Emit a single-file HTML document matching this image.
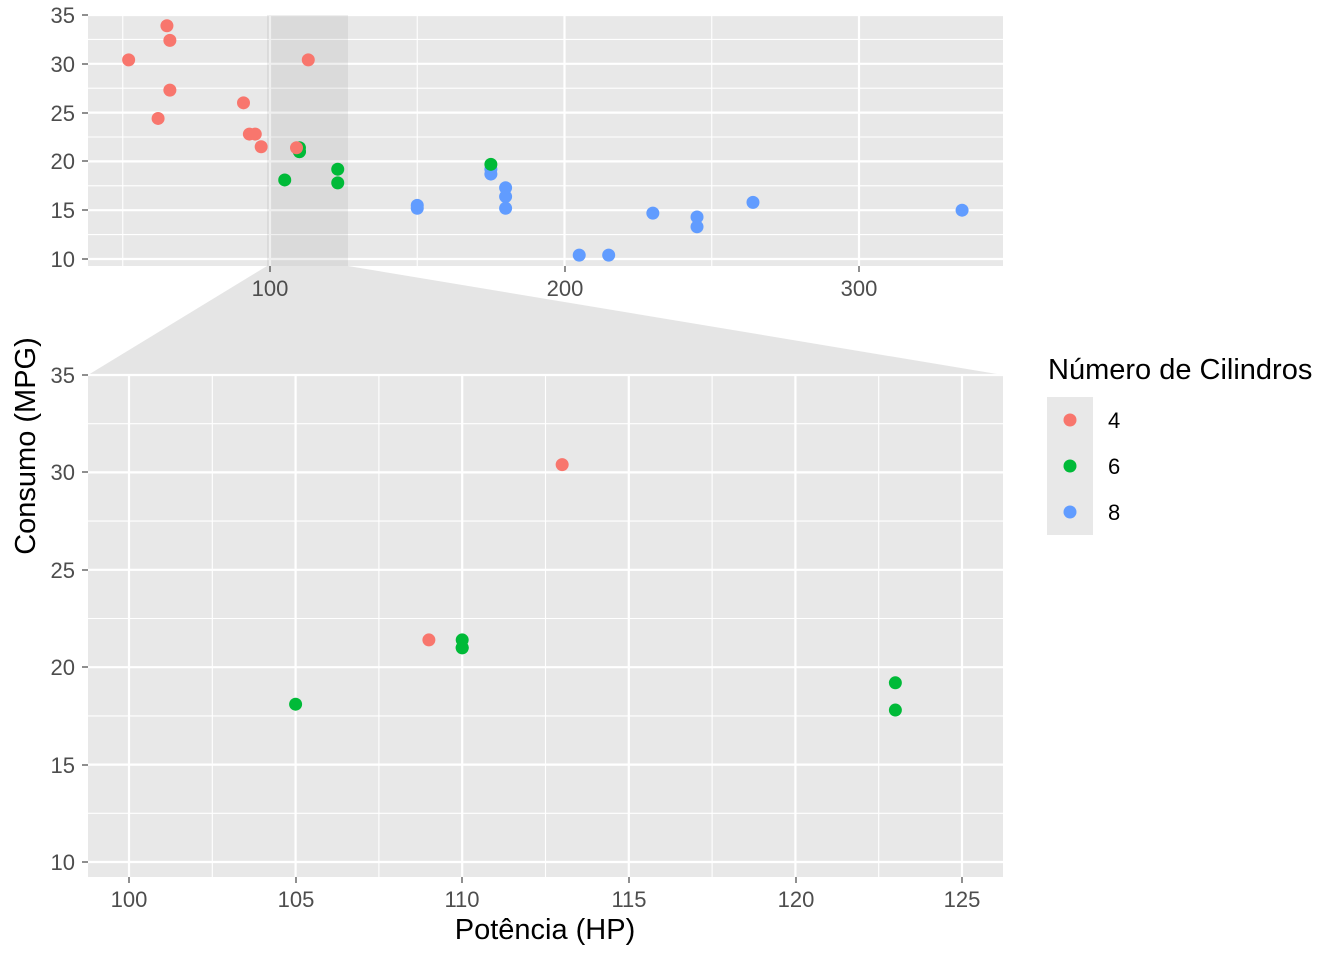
<!DOCTYPE html>
<html><head><meta charset="utf-8"><style>
body{margin:0;background:#fff}
svg text{font-family:"Liberation Sans",sans-serif}
</style></head><body>
<svg id="s" width="1344" height="960" xmlns="http://www.w3.org/2000/svg">
<rect x="0" y="0" width="1344" height="960" fill="#fff"/>
<polygon points="267,266 348,266 1003,375 88,375" fill="#e5e5e5"/>
<rect x="88" y="15" width="915" height="251" fill="#e8e8e8"/>
<rect x="88" y="375" width="915" height="502" fill="#e8e8e8"/>
<g id="grid"></g>
<rect x="267" y="15" width="81" height="251" fill="#7f7f7f" fill-opacity="0.12"/>
<g id="pts"></g>
<g font-size="22" fill="#4d4d4d" text-anchor="end">
<text x="75" y="23">35</text><text x="75" y="72">30</text><text x="75" y="121">25</text><text x="75" y="169">20</text><text x="75" y="218">15</text><text x="75" y="267">10</text>
<text x="75" y="383">35</text><text x="75" y="480">30</text><text x="75" y="578">25</text><text x="75" y="675">20</text><text x="75" y="773">15</text><text x="75" y="870">10</text>
</g>
<g font-size="22" fill="#4d4d4d" text-anchor="middle">
<text x="270" y="296">100</text><text x="565" y="296">200</text><text x="859" y="296">300</text>
<text x="129" y="907">100</text><text x="296" y="907">105</text><text x="462" y="907">110</text><text x="629" y="907">115</text><text x="796" y="907">120</text><text x="962" y="907">125</text>
</g>
<g stroke="#333" stroke-width="1.1">
<line x1="82" x2="88" y1="15" y2="15"/><line x1="82" x2="88" y1="64" y2="64"/><line x1="82" x2="88" y1="113" y2="113"/><line x1="82" x2="88" y1="161" y2="161"/><line x1="82" x2="88" y1="210" y2="210"/><line x1="82" x2="88" y1="259" y2="259"/>
<line x1="82" x2="88" y1="375" y2="375"/><line x1="82" x2="88" y1="472" y2="472"/><line x1="82" x2="88" y1="570" y2="570"/><line x1="82" x2="88" y1="667" y2="667"/><line x1="82" x2="88" y1="765" y2="765"/><line x1="82" x2="88" y1="862" y2="862"/>
<line y1="266" y2="272" x1="270" x2="270"/><line y1="266" y2="272" x1="565" x2="565"/><line y1="266" y2="272" x1="859" x2="859"/>
<line y1="877" y2="883" x1="129" x2="129"/><line y1="877" y2="883" x1="296" x2="296"/><line y1="877" y2="883" x1="462" x2="462"/><line y1="877" y2="883" x1="629" x2="629"/><line y1="877" y2="883" x1="796" x2="796"/><line y1="877" y2="883" x1="962" x2="962"/>
</g>
<text x="545" y="939" font-size="29" text-anchor="middle" fill="#000">Potência (HP)</text>
<text transform="translate(35,446) rotate(-90)" font-size="29" text-anchor="middle" fill="#000">Consumo (MPG)</text>
<text x="1048" y="379" font-size="29" fill="#000">Número de Cilindros</text>
<rect x="1047" y="397" width="46" height="138" fill="#e8e8e8"/>
<circle cx="1070" cy="420" r="6.5" fill="#F8766D"/>
<circle cx="1070" cy="466" r="6.5" fill="#00BA38"/>
<circle cx="1070" cy="512" r="6.5" fill="#619CFF"/>
<g font-size="22" fill="#000"><text x="1108" y="428">4</text><text x="1108" y="474">6</text><text x="1108" y="520">8</text></g>
</svg>
<script>
var d=[[110,21,6],[110,21,6],[93,22.8,4],[110,21.4,6],[175,18.7,8],[105,18.1,6],[245,14.3,8],[62,24.4,4],[95,22.8,4],[123,19.2,6],[123,17.8,6],[180,16.4,8],[180,17.3,8],[180,15.2,8],[205,10.4,8],[215,10.4,8],[230,14.7,8],[66,32.4,4],[52,30.4,4],[65,33.9,4],[97,21.5,4],[150,15.5,8],[150,15.2,8],[245,13.3,8],[175,19.2,8],[66,27.3,4],[91,26,4],[113,30.4,4],[264,15.8,8],[175,19.7,6],[335,15,8],[109,21.4,4]];
var col={4:"#F8766D",6:"#00BA38",8:"#619CFF"};
var ns="http://www.w3.org/2000/svg";
function el(p,t,a){var e=document.createElementNS(ns,t);for(var k in a)e.setAttribute(k,a[k]);p.appendChild(e);}
var g=document.getElementById("grid"),p=document.getElementById("pts");
function tx(h){return 270+(h-100)*2.945}function ty(m){return 259-(m-10)*9.76}
function bx(h){return 129+(h-100)*33.32}function by(m){return 862-(m-10)*19.48}
for(var v=12.5;v<=35;v+=5){el(g,"line",{x1:88,x2:1003,y1:ty(v),y2:ty(v),stroke:"#fff","stroke-width":1.1});el(g,"line",{x1:88,x2:1003,y1:by(v),y2:by(v),stroke:"#fff","stroke-width":1.1});}
for(var v=10;v<=35;v+=5){el(g,"line",{x1:88,x2:1003,y1:ty(v),y2:ty(v),stroke:"#fff","stroke-width":2.2});el(g,"line",{x1:88,x2:1003,y1:by(v),y2:by(v),stroke:"#fff","stroke-width":2.2});}
[50,150,250].forEach(function(v){el(g,"line",{y1:15,y2:266,x1:tx(v),x2:tx(v),stroke:"#fff","stroke-width":1.1});});
[100,200,300].forEach(function(v){el(g,"line",{y1:15,y2:266,x1:tx(v),x2:tx(v),stroke:"#fff","stroke-width":2.2});});
for(var v=102.5;v<126;v+=5)el(g,"line",{y1:375,y2:877,x1:bx(v),x2:bx(v),stroke:"#fff","stroke-width":1.1});
for(var v=100;v<=125;v+=5)el(g,"line",{y1:375,y2:877,x1:bx(v),x2:bx(v),stroke:"#fff","stroke-width":2.2});
d.forEach(function(r){el(p,"circle",{cx:tx(r[0]),cy:ty(r[1]),r:6.5,fill:col[r[2]]});
if(r[0]>=99&&r[0]<=126)el(p,"circle",{cx:bx(r[0]),cy:by(r[1]),r:6.5,fill:col[r[2]]});});
</script>
</body></html>
